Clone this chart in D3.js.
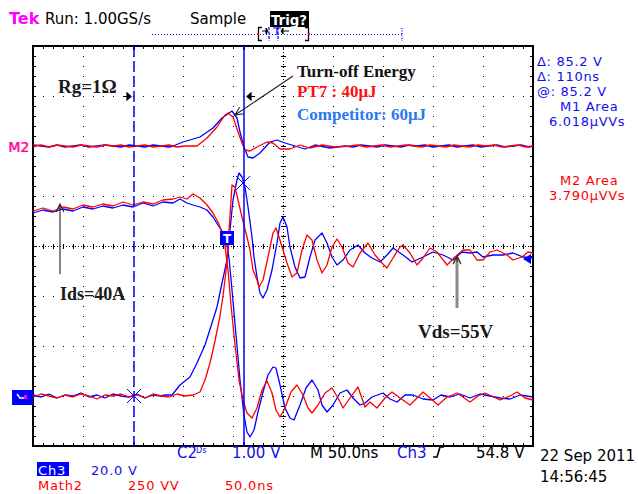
<!DOCTYPE html>
<html><head><meta charset="utf-8">
<script src="https://cdn.jsdelivr.net/npm/d3@7"></script>
<style>
html,body{margin:0;padding:0;background:#fff;overflow:hidden;}
svg{display:block;}
</style></head><body>
<svg id="c" width="638" height="494"></svg>
<script>
// ---------- DATA (time in ns, 50 ns/div) ----------
const timeDomain = [-250, 250];
const divDomain = [-4, 4];
const vdsVoltsPerDiv = 20;   // Ch3 20.0 V/div
const idsAmpsPerDiv = 10;    // C2 current
const powPerDiv = 250;       // Math2 250 VV/div
const groundDivVI = -3;      // Ch3 / C2 reference level (div)
const groundDivPow = 2;      // M2 reference level (div)
const cursorTimes = [-149, -39];
const cursorMarks = [[-149, 0], [-40, 85.2]];
const triggerLevel = 54.8;

// Vds, competitor (blue), volts
const vdsCompetitor = [[-250,0.4],[-242,-0.4],[-234,0.8],[-226,-0.8],[-218,0.4],[-210,0],[-202,1.2],[-194,-0.4],[-186,0.4],[-178,-0.8],[-170,0.8],[-162,0],[-154,-0.4],[-146,0.8],[-138,-0.8],[-130,0.4],[-122,0],
[-118,0.4],[-111,0.4],[-103,4.4],[-93,7.6],[-86,13.2],[-78,20.4],[-71,29.2],[-66,35.6],[-61,45.2],[-56,54.4],[-53,66.4],[-50,78.4],[-46,86.4],[-44,89.2],[-41,87.6],[-38,83.6],[-35,75.6],[-31,63.6],[-29,55.6],[-26,47.6],[-23,41.2],[-20,39.2],[-16,42.4],[-11,50.4],[-6,61.2],[-3,69.2],[0,71.6],[4,67.6],[7,59.6],[12,51.6],[17,47.2],[22,47.6],[27,55.6],[32,62.4],[39,65.2],[44,61.2],[49,55.6],[54,52.4],[60,54.4],[67,58.4],[75,60.4],[82,57.2],[89,55.2],[97,53.6],[104,56.4],[110,59.2],[120,56.4],[129,53.6],[140,55.6],[150,57.6],[160,56.4],[170,54.4],[179,57.6],[187,57.2],[194,57.6],[200,55.6],[210,56.4],[220,56.4],[230,57.2],[240,55.6],[250,55.2]];

// Vds, PT7 (red), volts
const vdsPT7 = [[-250,-0.4],[-242,0.8],[-234,0],[-226,-0.8],[-218,0.4],[-210,-0.4],[-202,0.8],[-194,0],[-186,-1.2],[-178,0.4],[-170,0],[-162,0.8],[-154,-0.4],[-146,0.4],[-138,-0.8],[-130,0.8],[-122,0],[-114,-0.4],[-106,0.8],[-98,0],[-90,0.4],
[-83,1.6],[-78,6.4],[-73,13.2],[-68,22],[-63,32],[-60,40],[-57,50],[-55,60],[-53,72],[-51,84.4],[-48,83.6],[-45,78.4],[-41,71.6],[-36,63.6],[-33,58.4],[-30,50.4],[-26,46.4],[-24,43.6],[-20,46.4],[-15,55.6],[-10,65.2],[-7,67.2],[-4,63.6],[0,58.4],[4,53.2],[9,47.6],[14,49.2],[19,58.4],[24,64.4],[29,62.4],[34,54.4],[39,49.2],[44,52.4],[49,59.6],[54,62.8],[59,59.6],[65,53.2],[70,51.6],[77,57.2],[85,61.2],[92,56.4],[99,53.2],[104,51.2],[110,55.2],[117,59.6],[120,60.4],[127,57.2],[134,52.4],[140,55.2],[147,59.2],[154,57.6],[164,52.4],[172,55.6],[180,58.4],[187,58.4],[194,54.4],[200,54.4],[207,57.6],[214,58.4],[224,56.4],[230,54.4],[239,55.6],[245,57.6],[250,57.2]];

// Ids, PT7 (red), amps
const idsPT7 = [[-250,37.0],[-240,37.6],[-230,37.0],[-220,37.8],[-210,37.4],[-200,38.2],[-190,37.8],[-180,38.4],[-170,38.0],[-160,38.8],[-150,38.2],[-140,38.8],[-130,38.4],[-120,39.2],[-110,39.4],[-103,39.8],[-96,39.4],[-90,40.4],[-83,39.6],[-76,38.2],[-70,36.6],[-65,34.8],[-61,32.8],[-58,30.0],[-55,25.2],[-52,18.2],[-48,10.2],[-44,3.2],[-40,-0.8],[-36,-3.4],[-31,-4.4],[-26,-2.4],[-21,1.2],[-16,3.0],[-11,0.6],[-7,-2.8],[-3,-4.2],[2,-2.4],[8,0.8],[14,2.2],[20,0.2],[25,-2.4],[29,-3.4],[35,-1.8],[42,0.6],[49,1.6],[55,-0.4],[60,-2.4],[67,-0.4],[75,1.8],[82,-2.2],[87,-1.2],[94,-2.4],[102,-0.4],[109,0.8],[117,-0.4],[127,-1.8],[134,-0.4],[140,0.8],[147,-0.4],[155,-1.8],[164,-0.2],[174,0.6],[187,-1.2],[195,0],[202,0.6],[217,-0.8],[227,0],[234,0.8],[242,-0.4],[250,-0.8]];

// Ids, competitor (blue), amps
const idsCompetitor = [[-250,36.6],[-240,37.2],[-230,36.8],[-220,37.4],[-210,37.0],[-200,37.8],[-190,37.4],[-180,38.0],[-170,37.6],[-160,38.2],[-150,37.8],[-140,38.6],[-130,38.0],[-120,38.8],[-110,38.6],[-103,39.4],[-96,38.6],[-90,38.2],[-83,37.8],[-76,37.2],[-70,35.8],[-65,34.2],[-61,33.0],[-57,31.2],[-54,27.6],[-51,21.2],[-47,12.2],[-43,3.2],[-39,-3.8],[-36,-7.2],[-33,-8.2],[-29,-6.8],[-25,-3.2],[-20,0.8],[-15,4.2],[-10,5.8],[-7,5.6],[-3,2.2],[2,-2.4],[7,-4.4],[11,-4.8],[17,-1.8],[23,1.6],[29,3.2],[35,1.2],[39,-1.8],[44,-3.2],[50,-1.8],[57,0.6],[64,1.2],[70,-0.4],[77,-1.8],[82,-1.4],[89,-0.2],[100,0.6],[107,-0.6],[114,-1.2],[122,0.2],[130,0.2],[140,-0.6],[150,-0.8],[158,0.2],[167,-0.2],[177,0.4],[187,-0.4],[197,0.4],[207,0],[217,-0.4],[227,-0.6],[237,0.2],[250,-0.2]];

// Math power, PT7 (red)
const powPT7 = [[-250,0],[-242,5],[-234,-5],[-226,5],[-218,0],[-210,-5],[-202,5],[-194,0],[-186,-5],[-178,5],[-170,0],[-162,5],[-154,-5],[-146,0],[-138,5],[-130,-5],[-122,0],[-114,5],[-106,-5],[-98,0],
[-86,0],[-76,40],[-66,95],[-58,155],[-55,165],[-50,145],[-45,70],[-41,15],[-38,-20],[-33,-25],[-26,-5],[-16,20],[-10,15],[-3,-15],[7,-15],[17,5],[27,-10],[39,5],[52,-5],[67,0],
[75,5],[83,-5],[91,0],[99,5],[107,-5],[115,0],[123,5],[131,0],[139,-5],[147,5],[155,0],[163,-5],[171,5],[179,0],[187,-5],[195,5],[203,0],[211,5],[219,-5],[227,0],[235,5],[243,-5],[250,0]];

// Math power, competitor (blue)
const powCompetitor = [[-250,5],[-242,0],[-234,-5],[-226,5],[-218,-5],[-210,0],[-202,5],[-194,-5],[-186,0],[-178,5],[-170,0],[-162,-5],[-154,5],[-146,0],[-138,-5],[-130,5],[-122,0],[-114,-5],
[-110,0],[-100,20],[-83,45],[-70,90],[-61,140],[-51,175],[-46,140],[-43,70],[-39,-5],[-35,-55],[-30,-60],[-23,-35],[-13,20],[-6,30],[2,15],[12,0],[22,-15],[32,5],[47,-10],[62,0],
[70,-5],[78,5],[86,0],[94,-5],[102,5],[110,0],[118,-5],[126,5],[134,0],[142,5],[150,-5],[158,0],[166,5],[174,-5],[182,0],[190,5],[198,-5],[206,0],[214,5],[222,-5],[230,0],[238,5],[246,-5],[250,0]];

// ---------- DRAW ----------
const BLUE = '#0000ff', RED = '#ff0000', TXTBLUE = '#1010ee';
const SANS = 'DejaVu Sans, sans-serif', SERIF = 'Liberation Serif, Times New Roman, serif';
const svg = d3.select('#c');
const x = d3.scaleLinear().domain(timeDomain).range([33, 533]);
const yDiv = d3.scaleLinear().domain(divDomain).range([446, 46]);
const yVds = d3.scaleLinear().domain([0, vdsVoltsPerDiv]).range([yDiv(groundDivVI), yDiv(groundDivVI + 1)]);
const yIds = d3.scaleLinear().domain([0, idsAmpsPerDiv]).range([yDiv(groundDivVI), yDiv(groundDivVI + 1)]);
const yPow = d3.scaleLinear().domain([0, powPerDiv]).range([yDiv(groundDivPow), yDiv(groundDivPow + 1)]);

const X0 = x(timeDomain[0]), X1 = x(timeDomain[1]), Y0 = yDiv(divDomain[1]), Y1 = yDiv(divDomain[0]);
const grid = svg.append('g').attr('shape-rendering', 'crispEdges');
const majorT = d3.range(-200, 201, 50).filter(t => t !== 0);
const majorD = d3.range(-3, 4, 1).filter(d => d !== 0);
const minorT = d3.range(-250, 251, 10);
const minorD = d3.range(-20, 21, 1).map(k => k / 5);
const dot = (px, py) => grid.append('rect').attr('x', Math.round(px)).attr('y', Math.round(py)).attr('width', 1).attr('height', 1).attr('fill', '#000');
majorT.forEach(t => minorD.forEach(d => dot(x(t), yDiv(d))));
majorD.forEach(d => minorT.forEach(t => dot(x(t), yDiv(d))));
// center cross
grid.append('line').attr('x1', x(0) + 0.5).attr('x2', x(0) + 0.5).attr('y1', Y0).attr('y2', Y1).attr('stroke', '#000').attr('stroke-dasharray', '1,2');
grid.append('line').attr('y1', yDiv(0) + 0.5).attr('y2', yDiv(0) + 0.5).attr('x1', X0).attr('x2', X1).attr('stroke', '#000').attr('stroke-dasharray', '1,2');
minorD.forEach(d => grid.append('line').attr('x1', x(0) - 2).attr('x2', x(0) + 3).attr('y1', Math.round(yDiv(d)) + 0.5).attr('y2', Math.round(yDiv(d)) + 0.5).attr('stroke', '#000'));
minorT.forEach(t => grid.append('line').attr('y1', yDiv(0) - 2).attr('y2', yDiv(0) + 3).attr('x1', Math.round(x(t)) + 0.5).attr('x2', Math.round(x(t)) + 0.5).attr('stroke', '#000'));
// border + ticks
grid.append('rect').attr('x', X0).attr('y', Y0).attr('width', X1 - X0).attr('height', Y1 - Y0).attr('fill', 'none').attr('stroke', '#000').attr('stroke-width', 1.3);
minorT.forEach(t => {
  const px = Math.round(x(t)) + 0.5;
  grid.append('line').attr('x1', px).attr('x2', px).attr('y1', Y0).attr('y2', Y0 + 3).attr('stroke', '#000');
  grid.append('line').attr('x1', px).attr('x2', px).attr('y1', Y1 - 3).attr('y2', Y1).attr('stroke', '#000');
});
minorD.forEach(d => {
  const py = Math.round(yDiv(d)) + 0.5;
  grid.append('line').attr('x1', X0).attr('x2', X0 + 3).attr('y1', py).attr('y2', py).attr('stroke', '#000');
  grid.append('line').attr('x1', X1 - 3).attr('x2', X1).attr('y1', py).attr('y2', py).attr('stroke', '#000');
});

// traces
const traces = svg.append('g').attr('fill', 'none').attr('stroke-width', 1.3).attr('stroke-linejoin', 'round');
const lineOf = ys => d3.line().x(d => x(d[0])).y(d => ys(d[1]));
traces.append('path').attr('d', lineOf(yPow)(powCompetitor)).attr('stroke', BLUE);
traces.append('path').attr('d', lineOf(yIds)(idsCompetitor)).attr('stroke', BLUE);
traces.append('path').attr('d', lineOf(yVds)(vdsCompetitor)).attr('stroke', BLUE);
traces.append('path').attr('d', lineOf(yPow)(powPT7)).attr('stroke', RED);
traces.append('path').attr('d', lineOf(yIds)(idsPT7)).attr('stroke', RED);
traces.append('path').attr('d', lineOf(yVds)(vdsPT7)).attr('stroke', RED);

// cursors
svg.append('line').attr('x1', x(cursorTimes[0])).attr('x2', x(cursorTimes[0])).attr('y1', Y0).attr('y2', Y1)
  .attr('stroke', BLUE).attr('stroke-width', 1.5).attr('stroke-dasharray', '11,4');
svg.append('line').attr('x1', x(cursorTimes[1])).attr('x2', x(cursorTimes[1])).attr('y1', Y0).attr('y2', Y1)
  .attr('stroke', BLUE).attr('stroke-width', 1.5);
cursorTimes.forEach(t => {
  svg.append('line').attr('x1', x(t)).attr('x2', x(t)).attr('y1', Y0).attr('y2', Y0 + 4).attr('stroke', BLUE).attr('stroke-width', 2);
  svg.append('line').attr('x1', x(t)).attr('x2', x(t)).attr('y1', Y1 - 4).attr('y2', Y1).attr('stroke', BLUE).attr('stroke-width', 2);
});
cursorMarks.forEach(([t, v]) => {
  const cx = x(t), cy = yVds(v), r = 7;
  svg.append('path').attr('d', `M${cx - r},${cy - r}L${cx + r},${cy + r}M${cx - r},${cy + r}L${cx + r},${cy - r}`).attr('stroke', BLUE).attr('stroke-width', 1);
});
// trigger level marker on right edge
{
  const ty = yVds(triggerLevel);
  svg.append('path').attr('d', `M${X1 - 10},${ty}L${X1 - 2},${ty - 5}L${X1 - 2},${ty + 5}Z`).attr('fill', BLUE);
}
// trigger "T" marker
{
  const tx = x(-56), ty = yDiv(0) - 8;
  svg.append('rect').attr('x', tx - 7).attr('y', ty - 7).attr('width', 14).attr('height', 14).attr('fill', BLUE);
  svg.append('text').attr('x', tx).attr('y', ty + 5).attr('text-anchor', 'middle').attr('font-family', SANS).attr('font-weight', 'bold').attr('font-size', 12).attr('fill', '#fff').text('T');
}

// ---------- TEXT ----------
function txt(px, py, s, fill, size, opts = {}) {
  const t = svg.append('text').attr('x', px).attr('y', py).attr('fill', fill).attr('font-size', size)
    .attr('font-family', opts.family || SANS).attr('font-weight', opts.weight || 'normal').text(s);
  if (opts.anchor) t.attr('text-anchor', opts.anchor);
  if (opts.ls) t.attr('letter-spacing', opts.ls);
  if (opts.len) t.attr('textLength', opts.len).attr('lengthAdjust', 'spacingAndGlyphs');
  return t;
}
// header
txt(9, 24, 'Tek', '#ff00ff', 16, { weight: 'bold' });
txt(45, 24, 'Run: 1.00GS/s', '#000', 15);
txt(190, 24, 'Sample', '#000', 15);
svg.append('rect').attr('x', 270).attr('y', 11).attr('width', 39).attr('height', 16).attr('fill', '#000');
txt(271, 25, 'Trig?', '#fff', 14, { weight: 'bold', len: 36 });
// record-position indicator
svg.append('line').attr('x1', 152).attr('x2', 402).attr('y1', 34.5).attr('y2', 34.5).attr('stroke', BLUE).attr('stroke-width', 1.2).attr('stroke-dasharray', '1,2');
svg.append('line').attr('x1', 402).attr('x2', 402).attr('y1', 28).attr('y2', 41).attr('stroke', BLUE).attr('stroke-width', 1.2).attr('stroke-dasharray', '1,1.5');
svg.append('path').attr('d', 'M262,27.5H258.5V40.5H262M305,27.5H308.5V40.5H305').attr('fill', 'none').attr('stroke', '#000').attr('stroke-width', 1.3);
svg.append('rect').attr('x', 257).attr('y', 33).attr('width', 2).attr('height', 2).attr('fill', RED);
svg.append('rect').attr('x', 308).attr('y', 33).attr('width', 2).attr('height', 2).attr('fill', RED);
svg.append('path').attr('d', 'M262,31H266M266,28L268,31L266,34Z').attr('stroke', '#000').attr('fill', '#000');
svg.append('path').attr('d', 'M283,31H289M283,28L281,31L283,34Z').attr('stroke', '#000').attr('fill', '#000');
[269, 278].forEach(px => svg.append('line').attr('x1', px).attr('x2', px).attr('y1', 27).attr('y2', 41).attr('stroke', BLUE).attr('stroke-width', 1.2).attr('stroke-dasharray', '3,1.5'));
svg.append('path').attr('d', 'M273,28H281M277,28V35').attr('stroke', BLUE).attr('stroke-width', 1.2).attr('fill', 'none');

// right readouts
const RS = 13, RLS = 0.7;
txt(537, 66, 'Δ: 85.2 V', TXTBLUE, RS, { ls: RLS });
txt(537, 81, 'Δ: 110ns', TXTBLUE, RS, { ls: RLS });
txt(537, 96, '@: 85.2 V', TXTBLUE, RS, { ls: RLS });
txt(560, 111, 'M1 Area', TXTBLUE, RS, { ls: RLS });
txt(549, 126, '6.018μVVs', TXTBLUE, RS, { ls: RLS });
txt(560, 185, 'M2 Area', RED, RS, { ls: RLS });
txt(549, 200, '3.790μVVs', RED, RS, { ls: RLS });

// bottom readouts
txt(177, 458, 'C2', TXTBLUE, 15);
txt(196, 453, 'Ds', TXTBLUE, 8);
txt(232, 458, '1.00 V', TXTBLUE, 15);
txt(310, 458, 'M 50.0ns', '#000', 15);
txt(397, 458, 'Ch3', TXTBLUE, 15);
svg.append('path').attr('d', 'M433,457H437L440,447H444').attr('fill', 'none').attr('stroke', '#000').attr('stroke-width', 1.6);
txt(476, 458, '54.8 V', '#000', 15);
txt(540, 461, '22 Sep 2011', '#000', 15);
txt(540, 482, '14:56:45', '#000', 15);
svg.append('rect').attr('x', 37).attr('y', 462).attr('width', 32).attr('height', 14).attr('fill', BLUE);
txt(38, 475, 'Ch3', '#fff', 13, { ls: 0.8 });
txt(91, 475, '20.0 V', TXTBLUE, 13, { ls: 0.8 });
txt(38, 490, 'Math2', RED, 13, { ls: 0.8 });
txt(128, 490, '250 VV', RED, 13, { ls: 0.8 });
txt(225, 490, '50.0ns', RED, 13, { ls: 0.8 });

// left channel markers
txt(8, 152, 'M2', '#ff00ff', 14);
txt(9, 152, 'M2', RED, 14).attr('opacity', 0.55);
svg.append('rect').attr('x', 12).attr('y', 390).attr('width', 21).attr('height', 15).attr('fill', BLUE);
svg.append('path').attr('d', 'M17,394L20,398H24').attr('fill', 'none').attr('stroke', '#fff').attr('stroke-width', 1.3);
svg.append('rect').attr('x', 24).attr('y', 395).attr('width', 3).attr('height', 4).attr('fill', '#ff00ff');

// ---------- ANNOTATIONS ----------
function arrow(x1, y1, x2, y2, color, w, head) {
  const a = Math.atan2(y2 - y1, x2 - x1), h = head || 8, s = 0.45;
  svg.append('path').attr('d', `M${x1},${y1}L${x2},${y2}M${x2 - h * Math.cos(a - s)},${y2 - h * Math.sin(a - s)}L${x2},${y2}L${x2 - h * Math.cos(a + s)},${y2 - h * Math.sin(a + s)}`)
    .attr('fill', 'none').attr('stroke', color).attr('stroke-width', w);
}
txt(58, 93, 'Rg=1Ω', '#1a1a1a', 19, { family: SERIF, weight: 'bold' });
// cursor delta arrows
{
  const ay = 96.5, lx = x(cursorTimes[0]) - 3, rx = x(cursorTimes[1]) + 3;
  svg.append('path').attr('d', `M${lx - 8},${ay}H${lx}M${lx - 4},${ay - 3.5}L${lx},${ay}L${lx - 4},${ay + 3.5}Z`).attr('stroke', '#000').attr('fill', '#000').attr('stroke-width', 1.2);
  svg.append('path').attr('d', `M${rx + 8},${ay}H${rx}M${rx + 4},${ay - 3.5}L${rx},${ay}L${rx + 4},${ay + 3.5}Z`).attr('stroke', '#000').attr('fill', '#000').attr('stroke-width', 1.2);
}
txt(297, 77, 'Turn-off Energy', '#111', 17, { family: SERIF, weight: 'bold' });
txt(297, 97, 'PT7 : 40μJ', '#ff1010', 17, { family: SERIF, weight: 'bold' });
txt(297, 120, 'Competitor: 60μJ', '#2a78f2', 17, { family: SERIF, weight: 'bold' });
arrow(293, 76, x(-48), yPow(165) + 2, '#222', 1.1, 9);
txt(60, 300, 'Ids=40A', '#1a1a1a', 18, { family: SERIF, weight: 'bold' });
arrow(60, 274, 60, yIds(39.6) + 6, '#222', 1.1, 9);
txt(418, 338, 'Vds=55V', '#1a1a1a', 19, { family: SERIF, weight: 'bold' });
svg.append('line').attr('x1', 457).attr('x2', 457).attr('y1', 308).attr('y2', yVds(55.2) - 1).attr('stroke', '#8a8a8a').attr('stroke-width', 3);
arrow(457, 262, 457, yVds(55.2) - 2, '#333', 1.3, 9);
</script></body></html>
